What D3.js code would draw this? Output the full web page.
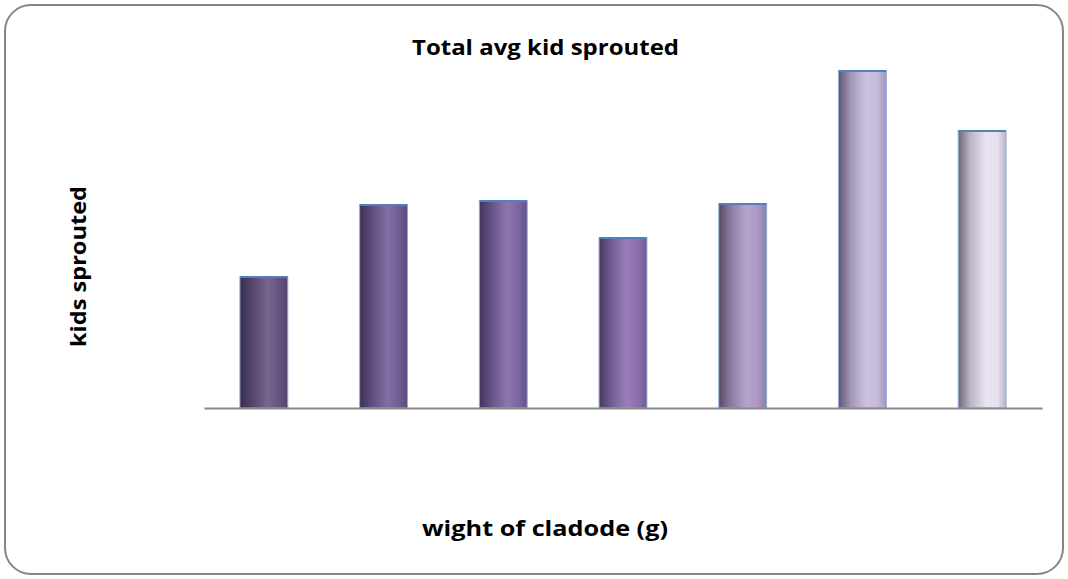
<!DOCTYPE html>
<html><head><meta charset="utf-8">
<script src="https://cdn.jsdelivr.net/npm/d3@7"></script>
<style>body{margin:0;background:#fff}svg{display:block}</style>
</head><body>
<svg id="c" width="1068" height="579"></svg>
<script>
const categories = ["1","2","3","4","5","6","7"];
const values = [1.31, 2.03, 2.07, 1.70, 2.04, 3.37, 2.77];
const barColors = ["#64527f","#705c96","#7c64a2","#8a6eae","#ab98c4","#c6badb","#e6e0f0"];
const title = "Total avg kid sprouted";
const xTitle = "wight of cladode (g)";
const yTitle = "kids sprouted";

const svg = d3.select("#c");
const font = "'Open Sans', sans-serif";
svg.append("rect").attr("x",5).attr("y",5).attr("width",1058).attr("height",569)
  .attr("rx",26).attr("fill","#fff").attr("stroke","#858585").attr("stroke-width",2);

const x = d3.scaleBand().domain(categories).range([204,1042]).paddingInner(0.6).paddingOuter(0.3);
const y = d3.scaleLinear().domain([0,3.4]).range([408,68]);

const defs = svg.append("defs");
barColors.forEach((c,i)=>{
  const g = defs.append("linearGradient").attr("id","g"+i).attr("x1","0").attr("x2","1").attr("y1","0").attr("y2","0");
  const base = d3.color(c);
  const dark = d3.interpolateRgb(c,"#1a1428")(0.6);
  const mid = d3.interpolateRgb(c,"#1a1428")(0.22);
  const hi = d3.interpolateRgb(c,"#ffffff")(0.12);
  g.append("stop").attr("offset","0%").attr("stop-color",dark);
  g.append("stop").attr("offset","25%").attr("stop-color",mid);
  g.append("stop").attr("offset","58%").attr("stop-color",hi);
  g.append("stop").attr("offset","82%").attr("stop-color",base.formatHex());
  g.append("stop").attr("offset","100%").attr("stop-color",mid);
});

svg.selectAll("rect.bar").data(values).join("rect").attr("class","bar")
  .attr("x",(d,i)=>x(categories[i])).attr("y",d=>y(d))
  .attr("width",x.bandwidth()).attr("height",d=>y(0)-y(d))
  .attr("fill",(d,i)=>`url(#g${i})`).attr("stroke","#8fb0dc").attr("stroke-width",1);
svg.selectAll("line.top").data(values).join("line").attr("class","top")
  .attr("x1",(d,i)=>x(categories[i])).attr("x2",(d,i)=>x(categories[i])+x.bandwidth())
  .attr("y1",d=>y(d)).attr("y2",d=>y(d)).attr("stroke","#4f81bd").attr("stroke-width",2);

const ax = svg.append("g").attr("transform","translate(0,408)")
  .call(d3.axisBottom(x).tickSize(0).tickFormat(""));
ax.select(".domain").attr("stroke","#888").attr("stroke-width",2);

function label(sel, len, fs){ return sel.attr("font-family",font).attr("font-weight","bold")
  .attr("font-size",fs).attr("fill","#000").attr("textLength",len).attr("lengthAdjust","spacingAndGlyphs"); }
label(svg.append("text").attr("x",412).attr("y",55).text(title), 267, 22);
label(svg.append("text").attr("x",422).attr("y",536).text(xTitle), 246, 22);
label(svg.append("text").attr("transform","translate(86,347) rotate(-90)").text(yTitle), 161, 22);
</script>
</body></html>
